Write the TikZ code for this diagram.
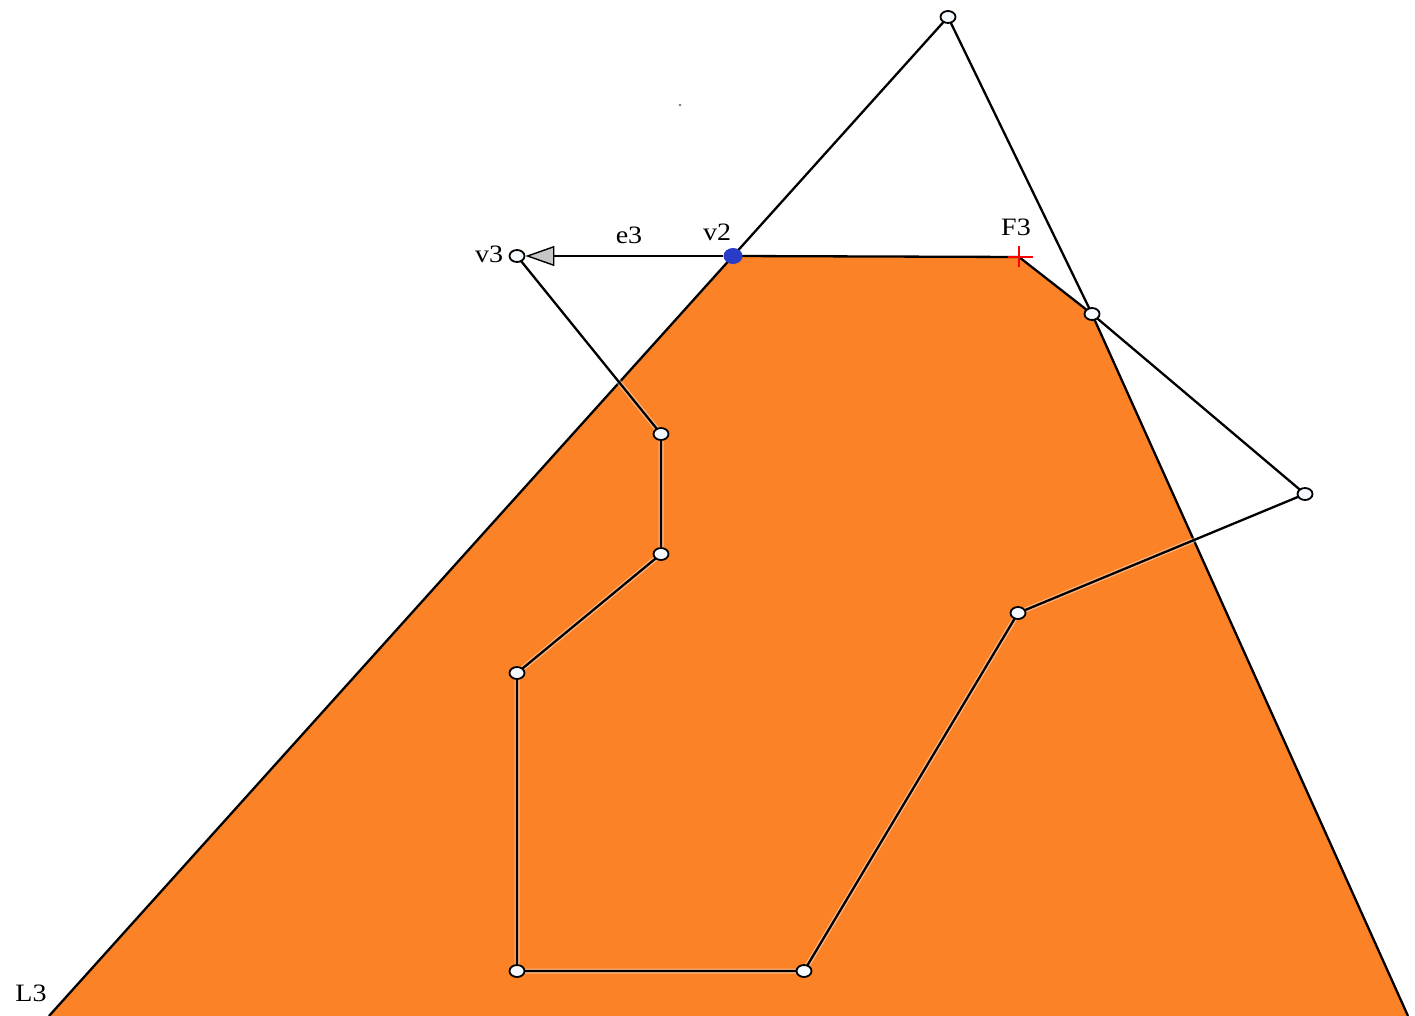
\documentclass[tikz,border=0pt]{standalone}
\usepackage{fontspec}
\setmainfont{Liberation Serif}
\usetikzlibrary{shapes.geometric,arrows.meta}
\definecolor{fillorange}{RGB}{252,130,40}
\definecolor{dotblue}{RGB}{40,60,200}
\definecolor{vtxfill}{RGB}{244,249,255}
\tikzset{
  edgeline/.style={draw=black,line width=2.3pt},
  halo/.style={draw=white,line width=5pt,opacity=0.4},
  vtx/.style={ellipse,draw=black,line width=1.8pt,fill=vtxfill,minimum width=15pt,minimum height=12pt,inner sep=0pt},
  lbl/.style={font=\fontsize{25}{28}\selectfont,inner sep=0pt,transform shape,xscale=1.12}
}
\begin{document}
\begin{tikzpicture}[x=1pt,y=-1pt]
\useasboundingbox (0,0) rectangle (1415,1016);
% orange region
\coordinate (L3p) at (49,1016);
\coordinate (v2c) at (733,256);
\coordinate (F3c) at (1019,257);
\coordinate (R) at (1408,1016);
\fill[fillorange] (L3p) -- (v2c) -- (F3c) -- (1092,314) -- (R) -- cycle;
\draw[edgeline] (L3p) -- (v2c) -- (F3c) -- (1092,314) -- (R);
% vertices
\coordinate (top) at (948,17);
\coordinate (a) at (1092,314);
\coordinate (b) at (1305,494);
\coordinate (c) at (1018,613);
\coordinate (d) at (804,971);
\coordinate (e) at (517,971);
\coordinate (f) at (517,673);
\coordinate (g) at (661,554);
\coordinate (h) at (661,434);
\coordinate (v3c) at (517,256);
% polyline with halo
\draw[halo] (v2c) -- (top) -- (a) -- (b) -- (c) -- (d) -- (e) -- (f) -- (g) -- (h) -- (v3c);
\draw[edgeline] (v2c) -- (top) -- (a) -- (b) -- (c) -- (d) -- (e) -- (f) -- (g) -- (h) -- (v3c);
% vertex nodes
\node[vtx] (ntop) at (top) {};
\node[vtx] (na) at (a) {};
\node[vtx] (nb) at (b) {};
\node[vtx] (nc) at (c) {};
\node[vtx] (nd) at (d) {};
\node[vtx] (ne) at (e) {};
\node[vtx] (nf) at (f) {};
\node[vtx] (ng) at (g) {};
\node[vtx] (nh) at (h) {};
\node[vtx] (v3) at (v3c) {};
% v2 blue dot
\node[ellipse,fill=dotblue,minimum width=19pt,minimum height=16pt,inner sep=0pt] (v2) at (v2c) {};
% e3 edge with arrow
\draw[edgeline,-{Triangle[length=29pt,width=20pt,fill=black!22,line width=1.4pt]}] (v2) -- (v3);
% F3 cross
\node[inner sep=0pt,minimum size=0pt] (F3) at (F3c) {};
\draw[red,line width=1.2pt] ([xshift=-11pt]F3.center) -- ([xshift=14pt]F3.center);
\draw[red,line width=1.2pt] ([yshift=-10pt]F3.center) -- ([yshift=11pt]F3.center);
% speck
\fill[black!55] (680,105) circle (1.3pt);
% labels
\node[lbl] (tv3) at (489,254) {v3};
\node[lbl] (te3) at (629,235) {e3};
\node[lbl] (tv2) at (717,232) {v2};
\node[lbl] (tF3) at (1016,227) {F3};
\node[lbl] (tL3) at (31,993) {L3};
\end{tikzpicture}
\end{document}
